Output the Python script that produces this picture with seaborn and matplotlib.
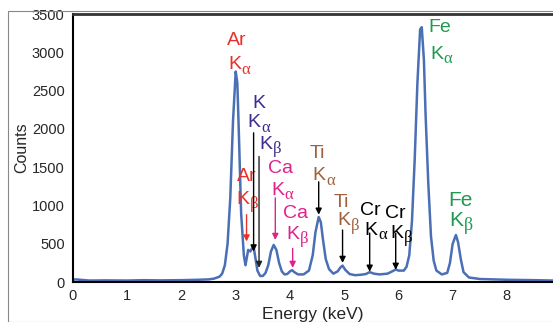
import seaborn as sns
import matplotlib.pyplot as plt
import pandas as pd
from matplotlib.patches import Rectangle

# spectrum (keV, counts)
energy = [0.0, 0.05, 0.3, 0.6, 1.0, 1.3, 1.6, 2.0, 2.3, 2.5, 2.6, 2.7, 2.75, 2.8, 2.85,
          2.9, 2.95, 3.0, 3.03, 3.06, 3.1, 3.15, 3.18, 3.2, 3.23, 3.27, 3.3, 3.33, 3.36,
          3.4, 3.45, 3.5, 3.55, 3.6, 3.65, 3.7, 3.75, 3.8, 3.85, 3.9, 3.95, 4.0, 4.04,
          4.08, 4.15, 4.25, 4.35, 4.42, 4.47, 4.53, 4.57, 4.61, 4.66, 4.72, 4.8, 4.88,
          4.93, 4.97, 5.02, 5.1, 5.2, 5.3, 5.4, 5.47, 5.55, 5.65, 5.8, 5.9, 5.95, 6.0,
          6.1, 6.15, 6.2, 6.25, 6.3, 6.35, 6.4, 6.43, 6.47, 6.5, 6.55, 6.6, 6.65, 6.7,
          6.8, 6.9, 6.95, 7.0, 7.06, 7.1, 7.15, 7.2, 7.3, 7.5, 8.0, 8.5, 8.85]
counts = [30, 35, 20, 22, 20, 25, 22, 25, 30, 35, 45, 70, 110, 220, 500,
          1100, 2100, 2750, 2600, 1900, 900, 350, 220, 300, 420, 400, 440, 460, 330,
          150, 80, 80, 120, 220, 400, 485, 420, 250, 140, 100, 105, 140, 155,
          130, 100, 100, 150, 350, 650, 850, 780, 550, 300, 170, 110, 140,
          190, 215, 160, 105, 90, 95, 105, 130, 110, 100, 110, 145, 165, 150,
          150, 200, 350, 800, 1600, 2600, 3300, 3330, 2900, 2200, 1300, 600, 280, 150,
          100, 120, 250, 500, 615, 520, 300, 130, 60, 40, 30, 25, 20]

# peak labels: element, line, colour ("" = line shares the element label above)
elements = ["Ar", "K", "", "Ar", "Ca", "Ca", "Ti", "Ti", "Cr", "Cr", "Fe", "Fe"]
lines = ["α", "α", "β", "β", "α", "β", "α", "β", "α", "β", "α", "β"]
colors = ["#e8302a", "#3b2d8c", "#3b2d8c", "#e8302a", "#e0218a", "#e0218a", "#a0603c",
          "#a0603c", "black", "black", "#1e9a50", "#1e9a50"]
# (element x, element y, line x, line y)
label_pos = [(3.02, 3150, 3.06, 2840), (3.43, 2330, 3.42, 2080), (None, None, 3.64, 1800),
             (3.2, 1380, 3.22, 1080),
             (3.83, 1480, 3.86, 1200), (4.1, 900, 4.13, 620), (4.5, 1680, 4.62, 1390),
             (4.94, 1035, 5.07, 800), (5.49, 930, 5.58, 680), (5.95, 890, 6.06, 640),
             (6.76, 3320, 6.79, 2975), (7.15, 1060, 7.16, 800)]
# arrows: x, start, tip
arrows = [(3.2, 880, 530, "#e8302a"), (3.33, 1950, 400, "black"), (3.43, 1640, 185, "#222222"),
          (3.73, 1100, 550, "#e0218a"), (4.05, 440, 185, "#e0218a"), (4.53, 1310, 880, "black"),
          (4.97, 680, 250, "black"), (5.47, 640, 135, "black"), (5.95, 640, 160, "black")]

df = pd.DataFrame({"Energy": energy, "Counts": counts})

sns.set_style("white")
plt.rcParams['font.family'] = ['Liberation Sans', 'DejaVu Sans']

fig = plt.figure(figsize=(5.53, 3.22), dpi=100)
ax = fig.add_axes([0.132, 0.124, 0.868, 0.832])
sns.lineplot(x="Energy", y="Counts", data=df, color="#4a6fb5", linewidth=1.8, ax=ax)

ax.set_xlim(0, 8.85)
ax.set_ylim(0, 3500)
ax.set_xticks(range(0, 9))
ax.set_yticks(range(0, 3501, 500))
ax.tick_params(axis='x', direction='inout', length=6, width=1, labelsize=10.5, pad=2)
ax.tick_params(axis='y', direction='out', length=4, width=1, labelsize=10.5, pad=2)
ax.set_xlabel("Energy (keV)", fontsize=12.5, labelpad=3)
ax.set_ylabel("Counts", fontsize=11.5, labelpad=2)
for s in ["left", "bottom"]:
    ax.spines[s].set_color("black")
    ax.spines[s].set_linewidth(1.5)
ax.spines["top"].set_color("#333333")
ax.spines["top"].set_linewidth(2)
ax.spines["right"].set_visible(False)

for el, ln, c, (ex, ey, lx, ly) in zip(elements, lines, colors, label_pos):
    fs = 15 if (el == "Fe" and ln == "β") else 14
    if el:
        ax.text(ex, ey, el, color=c, fontsize=fs, ha='center', va='center')
    ax.annotate("K", xy=(lx, ly), xytext=(1.5, 0), textcoords='offset points',
                color=c, fontsize=fs, ha='right', va='center')
    ax.annotate(ln, xy=(lx, ly), xytext=(1.8, -3.5), textcoords='offset points',
                color=c, fontsize=fs - 2, ha='left', va='center',
                family=['Liberation Serif', 'DejaVu Serif'])

for x, y0, y1, c in arrows:
    ax.annotate("", xy=(x, y1), xytext=(x, y0),
                arrowprops=dict(arrowstyle='-|>', color=c, lw=1, mutation_scale=9,
                                shrinkA=0, shrinkB=0))

fig.patches.append(Rectangle((8 / 553, 0), 1, 1 - 11 / 322, transform=fig.transFigure,
                             fill=False, edgecolor="#888888", linewidth=0.8))

plt.savefig("out.png")
plt.close()
